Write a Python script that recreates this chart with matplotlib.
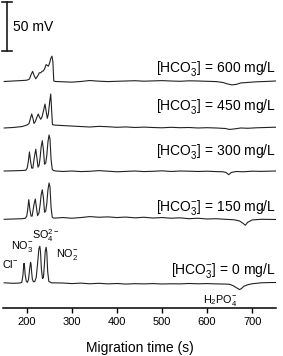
import matplotlib
matplotlib.use("Agg")
import matplotlib.pyplot as plt

plt.rcParams['font.family'] = ['Liberation Sans', 'DejaVu Sans']
plt.rcParams['mathtext.fontset'] = 'custom'
plt.rcParams['mathtext.rm'] = 'Liberation Sans'
plt.rcParams['mathtext.it'] = 'Liberation Sans:italic'
plt.rcParams['mathtext.bf'] = 'Liberation Sans:bold'

# ---- data (signal in mV relative to each trace's own baseline) ----
conc_labels = ["600", "450", "300", "150", "0"]

t_600 = [150, 170, 190, 200, 206, 210, 213, 216, 220, 224, 228, 231, 234, 237, 240, 243, 246, 248, 251, 253, 256, 258, 260, 264,
         280, 300, 320, 340, 360, 380, 400, 420, 440, 460, 480, 500, 520, 540, 560, 580, 600, 620, 635, 645, 655, 665, 675, 690, 710, 730, 752]
v_600 = [-0.5, 0.0, 0.5, 0.8, 2.0, 7.0, 10.0, 6.0, 2.3, 5.0, 8.5, 8.5, 10.0, 10.5, 13.0, 17.0, 16.0, 15.3, 19.0, 23.0, 25.7, 20.0, 0.0, -0.5,
         -0.8, -1.2, -0.5, 0.5, -0.2, -0.6, -0.3, 0.0, 0.3, -0.2, 0.1, 0.4, 0.0, -0.3, 0.2, 0.0, -0.3, -0.6, -1.5, -3.0, -4.0, -3.5, -2.0, -1.5, -0.8, -0.5, 0.0]

t_450 = [150, 170, 190, 200, 205, 208, 211, 214, 216, 219, 222, 225.6, 228, 231, 234, 237, 240.5, 243, 245.6, 248, 250.5, 253.2, 255, 257, 262,
         280, 300, 320, 340, 360, 380, 400, 420, 440, 460, 480, 500, 520, 540, 560, 580, 600, 620, 640, 650, 660, 675, 690, 710, 730, 752]
v_450 = [-0.5, 0.0, 1.0, 2.5, 4.0, 9.0, 14.0, 9.0, 4.3, 6.0, 10.0, 14.0, 11.0, 8.5, 11.0, 17.0, 24.3, 17.0, 9.5, 14.0, 25.0, 34.7, 20.0, 3.0, 2.5,
         2.0, 1.5, 1.0, 0.5, 1.2, 0.8, 0.2, 0.6, 0.0, 0.4, 0.0, -0.3, 0.2, -0.2, 0.0, -0.5, -0.2, -0.5, -1.0, -2.0, -1.5, -0.5, -0.8, -0.3, 0.0, 0.3]

t_300 = [150, 170, 190, 198, 201, 203.5, 206, 208.5, 211, 213.5, 215, 217.5, 220, 222.5, 225, 227.5, 229.5, 232, 234.5, 237, 239.5, 242, 244.5, 247, 249.5, 251.6, 254, 256.5, 259, 265,
         280, 300, 320, 340, 360, 380, 400, 420, 440, 460, 480, 500, 520, 540, 560, 580, 600, 620, 635, 642, 648, 654, 665, 680, 700, 720, 752]
v_300 = [0.0, 0.2, 0.5, 0.8, 3.0, 10.0, 19.7, 10.0, 3.0, 3.0, 8.0, 16.0, 22.5, 14.0, 4.0, 6.0, 13.0, 25.0, 31.4, 22.0, 7.0, 8.0, 16.0, 30.0, 37.3, 33.0, 12.0, 2.0, 0.5, 0.0,
         -0.5, 0.0, -0.6, -0.3, 0.4, -0.2, -0.8, -0.4, 0.0, -0.6, -0.3, 0.2, -0.5, 0.0, -0.2, -0.5, -0.2, -0.6, -0.8, -1.5, -3.8, -1.5, -0.5, -0.8, -0.2, -0.4, 0.0]

t_150 = [150, 170, 190, 197, 200, 202, 204.5, 207, 209.5, 212, 214, 216.5, 219, 221.5, 224, 227, 229.5, 232, 234.5, 237, 239.5, 242, 244.5, 247, 249.5, 251.6, 254, 256.5, 259, 265,
         280, 300, 320, 340, 360, 380, 400, 420, 440, 460, 480, 500, 520, 540, 560, 580, 600, 620, 640, 660, 672, 680, 685, 690, 700, 720, 752]
v_150 = [-0.3, 0.0, 0.3, 0.8, 3.0, 9.0, 20.0, 10.0, 3.0, 3.0, 9.0, 16.0, 20.7, 12.0, 3.5, 6.0, 14.0, 25.0, 30.3, 22.0, 7.0, 8.0, 16.0, 30.0, 37.3, 33.0, 12.0, 2.0, 1.0, 1.0,
         1.5, 0.8, 1.5, 2.5, 1.8, 2.2, 1.5, 2.0, 1.2, 1.8, 1.0, 1.5, 0.8, 1.2, 0.3, 0.8, 0.0, 0.3, -0.3, -0.8, -2.0, -4.5, -6.5, -3.5, -1.0, -0.3, -0.5]

t_0 = [150, 170, 185, 189, 191.5, 193, 194, 195, 196.5, 199, 201.5, 204, 206.5, 208.5, 209.5, 211, 212.5, 215, 218, 221, 224, 227, 229, 230.5, 232.5, 235, 237, 239, 241, 243, 244.5, 246.5, 249, 255,
       280, 300, 320, 340, 360, 380, 400, 420, 440, 460, 480, 500, 520, 540, 560, 580, 600, 620, 640, 650, 658, 665, 672, 676, 682, 690, 700, 720, 740, 752]
v_0 = [0.5, 0.0, 0.3, 1.0, 8.0, 17.0, 20.7, 18.0, 9.0, 2.0, 1.0, 4.0, 15.0, 21.7, 20.0, 11.0, 4.0, 1.5, 2.0, 6.0, 20.0, 36.0, 38.3, 33.0, 15.0, 5.0, 6.0, 18.0, 33.0, 37.3, 32.0, 12.0, 2.0, 0.5,
       0.3, -0.3, 0.2, -0.5, 0.0, -0.6, -0.2, -0.8, -0.4, -0.6, -0.3, -0.7, -0.5, -0.6, -0.2, -0.5, -0.3, -0.6, -0.8, -1.0, -2.5, -4.5, -6.5, -5.5, -3.0, -1.5, -0.5, 0.5, 0.8, 0.8]

traces_t = [t_600, t_450, t_300, t_150, t_0]
traces_v = [v_600, v_450, v_300, v_150, v_0]

x_ticks = [200, 300, 400, 500, 600, 700]
scale_mv = 50

# ---- layout ----
MV_PER_PX = 50 / 48.3
offsets = [(283.3 - b) * MV_PER_PX for b in (81.0, 127.5, 171.0, 219.0, 283.3)]
label_y_px = [68.3, 106.7, 151.7, 207.3, 270.0]


def py(px):
    return (283.3 - px) * MV_PER_PX


def sx(px):
    return 148 + (px - 3.3) * 605 / 272.7


W, H = 283, 356
fig = plt.figure(figsize=(W / 100, H / 100), dpi=100)
ax = fig.add_axes([3.3 / W, (H - 307.7) / H, 272.7 / W, 307.7 / H])
ax.set_xlim(148, 753)
ax.set_ylim(py(307.7), py(0))

for t, v, off in zip(traces_t, traces_v, offsets):
    ax.plot(t, [val + off for val in v], color='#222222', lw=0.8, solid_joinstyle='round')

for lab, ypx in zip(conc_labels, label_y_px):
    ax.text(752, py(ypx), r'[HCO$_3^{-}$] = ' + lab + ' mg/L', ha='right', va='center', fontsize=10)

# ion labels
ion_fs = 7.8
ax.text(sx(10.5), py(264.5), r'Cl$^{-}$', ha='center', va='center', fontsize=ion_fs)
ax.text(sx(22.5), py(247), r'NO$_3^{-}$', ha='center', va='center', fontsize=ion_fs)
ax.text(sx(45.5), py(235.5), r'SO$_4^{2-}$', ha='center', va='center', fontsize=ion_fs)
ax.text(sx(67), py(254), r'NO$_2^{-}$', ha='center', va='center', fontsize=ion_fs)
ax.text(sx(220), py(300), r'H$_2$PO$_4^{-}$', ha='center', va='center', fontsize=ion_fs)

# scale bar
bar_x = sx(7.3)
bar_top = py(2.3)
ax.plot([bar_x, bar_x], [bar_top - scale_mv, bar_top], color='#1a1a1a', lw=1.2, clip_on=False)
for yy in (bar_top - scale_mv, bar_top):
    ax.plot([sx(1.8), sx(12.5)], [yy, yy], color='#1a1a1a', lw=1.2, clip_on=False)
ax.text(sx(13.3), py(26.7), '50 mV', ha='left', va='center', fontsize=10)

for s in ('left', 'right', 'top'):
    ax.spines[s].set_visible(False)
ax.spines['bottom'].set_linewidth(1.1)
ax.set_yticks([])
ax.set_xticks(x_ticks)
ax.tick_params(axis='x', direction='out', length=3.6, width=1.0, labelsize=8, pad=3)
ax.set_xlabel('Migration time (s)', fontsize=10, labelpad=10)
ax.patch.set_alpha(0)

fig.savefig('out.png', dpi=100)
